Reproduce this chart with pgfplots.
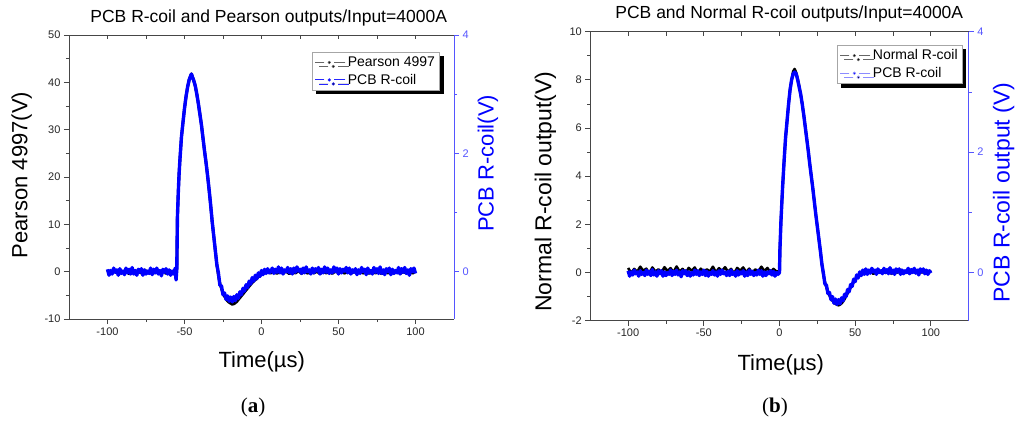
\documentclass[border=0pt]{standalone}
\usepackage{pgfplots}
\pgfplotsset{compat=1.18}
\usepackage{fontspec}
\setmainfont{Liberation Sans}
\newfontfamily\serif{Liberation Serif}
\usetikzlibrary{shadows}
\definecolor{axgray}{RGB}{70,70,70}
\definecolor{lblue}{RGB}{85,85,255}
\pgfplotsset{
  base/.style={at={(#1)}, anchor=south west, scale only axis, xmin=-125, xmax=125,
    /pgf/number format/assume math mode=true,
    tick label style={font=\fontsize{11}{13}\selectfont, text=black!85},
    major tick length=5pt, minor tick length=3pt, clip=false},
  leftax/.style={axis x line*=bottom, axis y line*=left, tick align=outside,
    xtick={-100,-50,0,50,100}, minor xtick={-75,-25,25,75},
    axis line style={-, draw=axgray, line width=0.8pt},
    every tick/.style={axgray, line width=0.8pt}},
  topax/.style={axis x line*=top, axis y line=none, tick align=inside,
    xtick={-100,-75,...,100}, xticklabels={}, major tick length=4pt,
    axis line style={-, draw=axgray, line width=0.8pt},
    every tick/.style={axgray, line width=0.8pt}},
  rightax/.style={axis y line*=right, axis x line=none, tick align=outside,
    ymin=-0.8, ymax=4, ytick={0,2,4}, minor ytick={1,3},
    axis line style={-, draw=lblue, line width=0.8pt},
    every tick/.style={lblue, line width=0.8pt},
    yticklabel style={text=lblue}},
  legbox/.style={legend style={draw=gray!70, line width=0.6pt, fill=white,
    font=\fontsize{14}{16}\selectfont, inner sep=2.5pt, row sep=2pt,
    general shadow={fill=black, shadow xshift=4pt, shadow yshift=-4pt},
    legend cell align=left}},
}
\begin{document}
\begin{tikzpicture}[x=1pt,y=1pt]
\path[use as bounding box] (0,0) rectangle (1024,429);

% ---------------- panel (a) ----------------
\begin{axis}[base={69pt,110pt}, width=385pt, height=284pt, leftax,
  ymin=-10, ymax=50, ytick={-10,0,...,50}, minor ytick={-5,5,...,45}]
\addplot[black, line width=2.8pt, line join=round] coordinates {
(-100,0.3) (-98,-0.4) (-96,0.15) (-94,-0.25) (-92,0.45) (-90,-0.1) (-88,0.2) (-86,-0.45) (-84,0.35) (-82,-0.2)
(-80,0.1) (-78,-0.35) (-76,0.4) (-74,-0.15) (-72,0.25) (-70,-0.3) (-68,0.5) (-66,-0.25) (-64,0.15) (-62,-0.4)
(-60,0.3) (-58,-0.1) (-56,0.35) (-55.5,0.2) (-55,0.5) (-54.6,11.5) (-54,17) (-53.5,20.7) (-53,23.5) (-52,28.4)
(-51,31.5) (-50,34.5) (-49,37) (-48,39) (-47,40.5) (-46,41.4) (-45.5,41.8) (-45,41.3) (-44,40.4) (-43,39.2)
(-42,37.5) (-41,35.5) (-40,33.3) (-39,31) (-38,28.2) (-37,25.5) (-36,23) (-35,20.3) (-34,17.2) (-33,14)
(-32,10.5) (-31,7.5) (-30,4.5) (-29,1.5) (-28,-0.8) (-27,-2.5) (-26,-3.6) (-25,-4.5) (-24,-5.2) (-23,-5.8)
(-22,-6.2) (-21,-6.5) (-20,-6.7) (-19,-6.9) (-18,-6.8) (-17,-6.6) (-16,-6.3) (-15,-5.9) (-14,-5.5) (-13,-5.1)
(-12,-4.7) (-11,-4.3) (-10,-3.9) (-9,-3.5) (-8,-3.1) (-7,-2.7) (-6,-2.3) (-5,-2.0) (-4,-1.7) (-3,-1.4)
(-2,-1.1) (-1,-0.8) (0,-0.6) (1,-0.45) (2,-0.3) (3,-0.15) (4,-0.05) (6,-0.3) (8,0.1) (10,-0.4)
(12,0.05) (14,-0.35) (16,0.1) (18,-0.45) (20,0.0) (22,-0.3) (24,0.15) (26,-0.4) (28,0.05) (30,-0.35)
(32,0.1) (34,-0.3) (36,0.05) (38,-0.45) (40,0.1) (42,-0.3) (44,0.0) (46,-0.4) (48,0.15) (50,-0.3)
(52,0.05) (54,-0.35) (56,0.1) (58,-0.4) (60,0.0) (62,-0.3) (64,0.15) (66,-0.35) (68,0.05) (70,-0.4)
(72,0.1) (74,-0.3) (76,0.0) (78,-0.45) (80,0.1) (82,-0.3) (84,0.05) (86,-0.35) (88,0.1) (90,-0.4)
(92,0.0) (94,-0.3) (96,0.15) (98,-0.35) (100,0.05)
};
\end{axis}
\begin{axis}[base={69pt,110pt}, width=385pt, height=284pt, topax, ymin=-10, ymax=50]
\end{axis}
\begin{axis}[base={69pt,110pt}, width=385pt, height=284pt, rightax, legbox,
  legend style={at={(0.631,0.94)}, anchor=north west},
  legend image code/.code={\draw[#1, line width=1.1pt] (0pt,0pt) -- (9pt,0pt);
    \draw[#1, line width=1.1pt] (19pt,0pt) -- (30pt,0pt);
    \fill[#1] (14pt,0pt) circle (1.3pt);}]
\addlegendimage{draw=black!60, fill=black}
\addlegendentry{Pearson 4997}
\addlegendimage{draw=blue!85!white, fill=blue}
\addlegendentry{PCB R-coil}
\addplot[blue, line width=3.4pt, line join=round, forget plot] coordinates {
(-100,0.04) (-99,-0.06) (-98,0.02) (-97,-0.04) (-96,0.06) (-95,-0.01) (-94,0.03) (-93,-0.06) (-92,0.05) (-91,-0.03)
(-90,0.01) (-89,-0.05) (-88,0.06) (-87,-0.02) (-86,0.04) (-85,-0.04) (-84,0.07) (-83,-0.04) (-82,0.02) (-81,-0.06)
(-80,0.04) (-79,-0.01) (-78,0.05) (-77,-0.06) (-76,0.03) (-75,-0.04) (-74,0.01) (-73,-0.03) (-72,0.06) (-71,-0.05)
(-70,0.04) (-69,-0.02) (-68,0.06) (-67,-0.04) (-66,0.02) (-65,-0.07) (-64,0.04) (-63,-0.01) (-62,0.05) (-61,-0.04)
(-60,0.03) (-59,-0.06) (-58,0.01) (-57,-0.04) (-56,0.06) (-55.5,-0.14) (-55,0.04) (-54.6,0.92) (-54,1.36) (-53.5,1.66)
(-53,1.88) (-52,2.27) (-51,2.52) (-50,2.76) (-49,2.96) (-48,3.12) (-47,3.24) (-46,3.31) (-45.5,3.34) (-45,3.30)
(-44,3.23) (-43,3.14) (-42,3.00) (-41,2.84) (-40,2.66) (-39,2.48) (-38,2.26) (-37,2.04) (-36,1.84) (-35,1.62)
(-34,1.38) (-33,1.12) (-32,0.84) (-31,0.60) (-30,0.36) (-29,0.12) (-28,-0.02) (-27,-0.23) (-26,-0.24) (-25,-0.39)
(-24,-0.36) (-23,-0.47) (-22,-0.41) (-21,-0.50) (-20,-0.43) (-19,-0.51) (-18,-0.42) (-17,-0.49) (-16,-0.39) (-15,-0.45)
(-14,-0.34) (-13,-0.39) (-12,-0.28) (-11,-0.33) (-10,-0.22) (-9,-0.27) (-8,-0.16) (-7,-0.21) (-6,-0.10) (-5,-0.16)
(-4,-0.06) (-3,-0.12) (-2,-0.02) (-1,-0.08) (0,0.02) (1,-0.05) (2,0.04) (3,-0.03) (4,0.05) (5,-0.02)
(6,0.00) (7,0.06) (8,-0.03) (9,0.04) (10,-0.01) (11,0.08) (12,-0.02) (13,0.06) (14,-0.04) (15,0.03)
(16,0.00) (17,0.07) (18,-0.02) (19,0.05) (20,-0.04) (21,0.06) (22,-0.01) (23,0.08) (24,0.01) (25,0.04)
(26,-0.03) (27,0.06) (28,-0.02) (29,0.08) (30,0.00) (31,0.03) (32,-0.04) (33,0.06) (34,-0.02) (35,0.05)
(36,0.01) (37,0.07) (38,-0.04) (39,0.04) (40,-0.02) (41,0.08) (42,-0.01) (43,0.06) (44,-0.03) (45,0.03)
(46,-0.02) (47,0.08) (48,0.00) (49,0.06) (50,-0.04) (51,0.05) (52,-0.02) (53,0.04) (54,0.01) (55,0.07)
(56,-0.02) (57,0.06) (58,-0.04) (59,0.03) (60,-0.01) (61,0.05) (62,-0.05) (63,0.03) (64,-0.03) (65,0.07)
(66,0.00) (67,0.04) (68,-0.05) (69,0.06) (70,-0.02) (71,0.02) (72,-0.04) (73,0.07) (74,-0.01) (75,0.05)
(76,-0.03) (77,0.08) (78,-0.03) (79,0.03) (80,-0.05) (81,0.05) (82,0.00) (83,0.06) (84,-0.05) (85,0.04)
(86,-0.03) (87,0.02) (88,-0.02) (89,0.07) (90,-0.04) (91,0.05) (92,-0.01) (93,0.07) (94,-0.03) (95,0.03)
(96,-0.06) (97,0.05) (98,0.00) (99,0.06) (100,-0.03)
};
\end{axis}

\node[font=\fontsize{17.5}{20}\selectfont] at (268.7,411) {PCB R-coil and Pearson outputs/Input=4000A};
\node[font=\fontsize{22}{26}\selectfont] at (261.7,67.3) {Time(µs)};
\node[rotate=90, font=\fontsize{22}{26}\selectfont] at (21.7,254) {Pearson 4997(V)};
\node[rotate=90, text=blue, font=\fontsize{22}{26}\selectfont] at (488,265.7) {PCB R-coil(V)};
\node[font=\serif\fontsize{21}{24}\selectfont] at (253,22) {(\textbf{a})};

% ---------------- panel (b) ----------------
\begin{axis}[base={590.3pt,108.3pt}, width=378.4pt, height=289pt, leftax,
  ymin=-2, ymax=10, ytick={-2,0,...,10}, minor ytick={-1,1,...,9}]
\addplot[black, line width=2.6pt, line join=round] coordinates {
(-100,0.19) (-98,-0.02) (-96,0.15) (-94,0.03) (-92,0.24) (-90,0.07) (-88,0.16) (-86,-0.04) (-84,0.21) (-82,0.04)
(-80,0.13) (-78,0.0) (-76,0.22) (-74,0.06) (-72,0.18) (-70,0.01) (-68,0.25) (-66,0.03) (-64,0.15) (-62,-0.02)
(-60,0.19) (-58,0.07) (-56,0.21) (-54,-0.04) (-52,0.16) (-50,0.01) (-48,0.13) (-46,0.04) (-44,0.24) (-42,0.0)
(-40,0.18) (-38,0.06) (-36,0.22) (-34,0.03) (-32,0.15) (-30,-0.05) (-28,0.19) (-26,0.07) (-24,0.21) (-22,0.01)
(-20,0.16) (-18,-0.02) (-16,0.13) (-14,0.03) (-12,0.24) (-10,0.06) (-8,0.19) (-6,0.0) (-4,0.15) (-2,0.04)
(0,0.05) (0.3,1.0) (1,2.2) (2,3.5) (3,4.6) (4,5.6) (5,6.3) (6,7.0) (7,7.6) (8,8.0)
(9,8.35) (10,8.45) (11,8.3) (12,8.05) (13,7.75) (14,7.4) (15,7.0) (16,6.55) (17,6.05) (18,5.55)
(19,5.05) (20,4.5) (21,4.0) (22,3.5) (23,2.95) (24,2.4) (25,1.9) (26,1.4) (27,0.9) (28,0.35)
(29,-0.1) (30,-0.4) (31,-0.62) (32,-0.8) (33,-0.95) (34,-1.07) (35,-1.17) (36,-1.25) (37,-1.3) (38,-1.34)
(39,-1.36) (40,-1.33) (41,-1.28) (42,-1.2) (43,-1.1) (44,-0.98) (45,-0.86) (46,-0.74) (47,-0.62) (48,-0.5)
(49,-0.4) (50,-0.3) (51,-0.22) (52,-0.15) (53,-0.09) (54,-0.04) (55,0.0)
(56,0.11) (58,-0.03) (60,0.08) (62,-0.06) (64,0.05) (66,0.0) (68,0.10) (70,-0.02) (72,0.07) (74,-0.05)
(76,0.09) (78,-0.01) (80,0.12) (82,0.01) (84,0.06) (86,-0.04) (88,0.08) (90,-0.03) (92,0.11) (94,0.0)
(96,0.05) (98,-0.06) (100,0.09)
};
\end{axis}
\begin{axis}[base={590.3pt,108.3pt}, width=378.4pt, height=289pt, topax, ymin=-2, ymax=10]
\end{axis}
\begin{axis}[base={590.3pt,108.3pt}, width=378.4pt, height=289pt, rightax, legbox,
  legend style={at={(0.652,0.954)}, anchor=north west},
  legend image code/.code={\draw[#1, line width=1.1pt] (0pt,0pt) -- (9pt,0pt);
    \draw[#1, line width=1.1pt] (19pt,0pt) -- (30pt,0pt);
    \fill[#1] (14pt,0pt) circle (1.3pt);}]
\addlegendimage{draw=black!60, fill=black}
\addlegendentry{Normal R-coil}
\addlegendimage{draw=blue!45!white, fill=blue}
\addlegendentry{PCB R-coil}
\addplot[blue, line width=3.4pt, line join=round, forget plot] coordinates {
(-100,0.03) (-99,-0.06) (-98,0.01) (-97,-0.04) (-96,0.04) (-95,-0.02) (-94,0.01) (-93,-0.06) (-92,0.03) (-91,-0.03)
(-90,0.0) (-89,-0.05) (-88,0.04) (-87,-0.03) (-86,0.02) (-85,-0.05) (-84,0.05) (-83,-0.04) (-82,0.01) (-81,-0.06)
(-80,0.03) (-79,-0.02) (-78,0.03) (-77,-0.06) (-76,0.01) (-75,-0.05) (-74,0.0) (-73,-0.03) (-72,0.04) (-71,-0.05)
(-70,0.02) (-69,-0.03) (-68,0.04) (-67,-0.04) (-66,0.01) (-65,-0.07) (-64,0.03) (-63,-0.02) (-62,0.03) (-61,-0.05)
(-60,0.01) (-59,-0.06) (-58,0.0) (-57,-0.04) (-56,0.04) (-55,-0.03) (-54,0.03) (-53,-0.05) (-52,0.01) (-51,-0.03)
(-50,0.04) (-49,-0.05) (-48,0.02) (-47,-0.06) (-46,0.0) (-45,-0.03) (-44,0.03) (-43,-0.04) (-42,0.01) (-41,-0.06)
(-40,0.03) (-39,-0.03) (-38,0.04) (-37,-0.02) (-36,0.01) (-35,-0.05) (-34,0.02) (-33,-0.05) (-32,0.04) (-31,-0.03)
(-30,0.0) (-29,-0.06) (-28,0.03) (-27,-0.04) (-26,0.01) (-25,-0.02) (-24,0.03) (-23,-0.06) (-22,0.01) (-21,-0.05)
(-20,0.04) (-19,-0.03) (-18,0.02) (-17,-0.05) (-16,0.0) (-15,-0.04) (-14,0.04) (-13,-0.03) (-12,0.03) (-11,-0.06)
(-10,0.01) (-9,-0.05) (-8,0.01) (-7,-0.02) (-6,0.03) (-5,-0.04) (-4,0.02) (-3,-0.06) (-2,0.0) (-1,-0.03)
(0,0.0) (0.3,0.4) (1,0.88) (2,1.4) (3,1.84) (4,2.24) (5,2.52) (6,2.8) (7,3.04) (8,3.2)
(9,3.3) (10,3.33) (11,3.3) (12,3.2) (13,3.08) (14,2.96) (15,2.8) (16,2.62) (17,2.42) (18,2.22)
(19,2.02) (20,1.8) (21,1.6) (22,1.4) (23,1.18) (24,0.96) (25,0.76) (26,0.56) (27,0.36) (28,0.14)
(29,-0.01) (30,-0.19) (31,-0.21) (32,-0.35) (33,-0.33) (34,-0.45) (35,-0.40) (36,-0.51) (37,-0.44) (38,-0.53)
(39,-0.45) (40,-0.52) (41,-0.42) (42,-0.47) (43,-0.36) (44,-0.40) (45,-0.28) (46,-0.32) (47,-0.20) (48,-0.23)
(49,-0.11) (50,-0.15) (51,-0.04) (52,-0.09) (53,0.01) (54,-0.05) (55,0.04) (56,-0.03)
(57,0.06) (58,-0.03) (59,0.04) (60,-0.01) (61,0.07) (62,0.01) (63,0.04) (64,-0.03) (65,0.06) (66,0.0)
(67,0.03) (68,-0.02) (69,0.07) (70,0.0) (71,0.05) (72,-0.02) (73,0.08) (74,-0.01) (75,0.04) (76,-0.03)
(77,0.06) (78,0.01) (79,0.06) (80,-0.03) (81,0.04) (82,-0.02) (83,0.03) (84,0.0) (85,0.07) (86,-0.02)
(87,0.05) (88,0.0) (89,0.07) (90,-0.01) (91,0.04) (92,-0.04) (93,0.06) (94,0.01) (95,0.06) (96,-0.02)
(97,0.04) (98,-0.03) (99,0.03) (100,-0.01)
};
\end{axis}

\node[font=\fontsize{17.5}{20}\selectfont] at (789.3,415) {PCB and Normal R-coil outputs/Input=4000A};
\node[font=\fontsize{22}{26}\selectfont] at (780.7,64) {Time(µs)};
\node[rotate=90, font=\fontsize{23}{27}\selectfont] at (545.3,237.3) {Normal R-coil output(V)};
\node[rotate=90, text=blue, font=\fontsize{23}{27}\selectfont] at (1003.7,236.5) {PCB R-coil output (V)};
\node[font=\serif\fontsize{21}{24}\selectfont] at (775,22) {(\textbf{b})};
\end{tikzpicture}
\end{document}
